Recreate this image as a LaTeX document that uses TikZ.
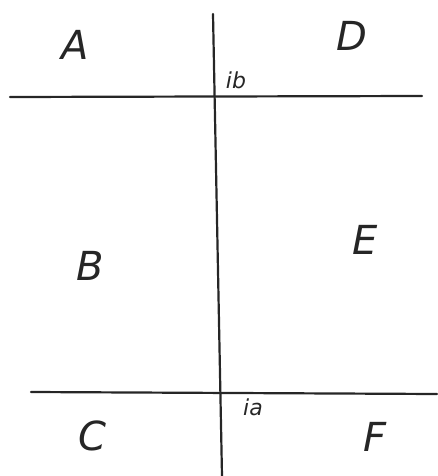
\documentclass[tikz,border=0pt]{standalone}
\usepackage{fontspec}
\setmainfont{DejaVu Sans}
\begin{document}
\begin{tikzpicture}[x=1pt,y=-1pt,
  line/.style={line width=2.2pt,black!85,line cap=round},
  lab/.style={font=\fontsize{40}{40}\selectfont\itshape,text=black!85},
  slab/.style={font=\fontsize{22}{22}\selectfont\itshape,text=black!85}]
\useasboundingbox (0,0) rectangle (437,476);
\coordinate (vt) at (213,14);
\coordinate (vb) at (222,476);
\coordinate (hl1) at (10,97);
\coordinate (hr1) at (422,96);
\coordinate (hl2) at (31,392);
\coordinate (hr2) at (437,394);
\draw[line] (vt) -- (vb);
\draw[line] (hl1) -- (hr1);
\draw[line] (hl2) -- (hr2);
\node[lab] (A) at (75,45) {A};
\node[lab] (D) at (352,36) {D};
\node[slab] (ib) at (236,80) {ib};
\node[lab] (B) at (90,266) {B};
\node[lab] (E) at (365,240) {E};
\node[lab] (C) at (92,436) {C};
\node[slab] (ia) at (253,407) {ia};
\node[lab] (F) at (375,437) {F};
\end{tikzpicture}
\end{document}
